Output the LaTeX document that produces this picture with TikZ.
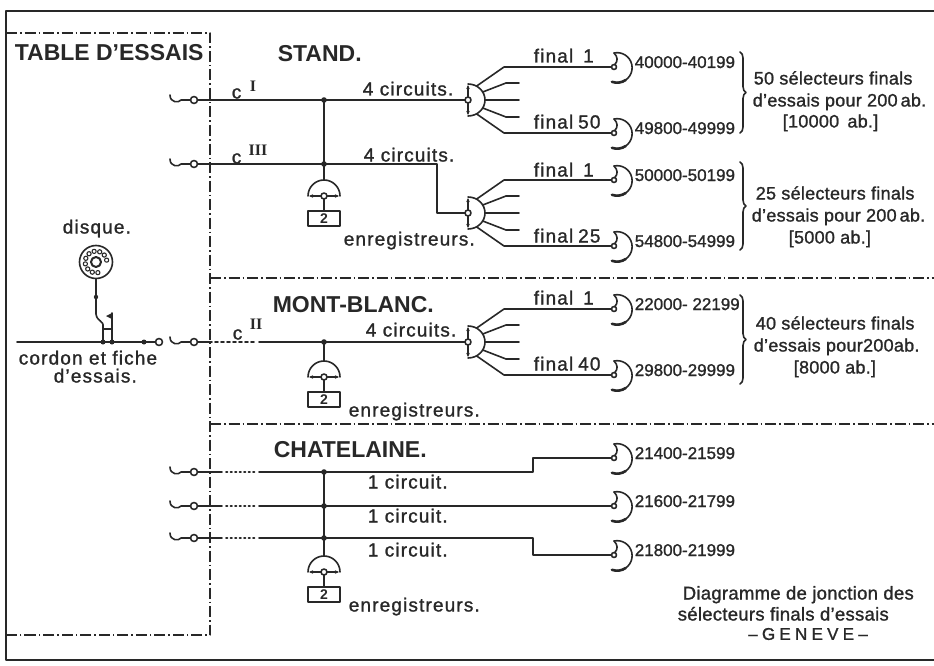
\documentclass[tikz,border=0pt]{standalone}
\usepackage{fontspec}
\setmainfont{Liberation Sans}
\newfontfamily\lblfont{Liberation Sans}[FakeBold=1.2, LetterSpace=6]
\newfontfamily\sidefont{Liberation Sans}[FakeBold=1.2, LetterSpace=1.5]
\newfontfamily\numfont{Liberation Sans}[FakeBold=1.2]
\newfontfamily\romf{Liberation Serif}
\usetikzlibrary{arrows.meta,decorations.pathreplacing,calc}
\definecolor{inkc}{RGB}{40,40,40}
\tikzset{
  dashdot/.style={line width=1.7pt, dash pattern=on 11pt off 3pt on 1.5pt off 3pt, line cap=butt},
  frame/.style={line width=2pt},
  title/.style={font=\fontsize{23}{23}\selectfont\bfseries, inner sep=0pt, anchor=west, text height=16pt, text depth=0pt},
  lbl/.style={font=\fontsize{19}{19}\selectfont\lblfont, inner sep=0pt, anchor=west, text height=13pt, text depth=0pt},
  num/.style={font=\fontsize{17}{17}\selectfont\numfont, inner sep=0pt, anchor=west, text height=12pt, text depth=0pt},
  side/.style={font=\fontsize{18}{18}\selectfont\sidefont, inner sep=0pt, anchor=west, text height=13pt, text depth=0pt},
  rom/.style={font=\fontsize{16}{16}\selectfont\romf\bfseries, inner sep=0pt},
  jdot/.style={fill=inkc},
  tip/.style={-{Stealth[length=4pt,width=3.5pt]}},
  pics/jack/.style={code={
    \draw (-24,-5) .. controls (-24,3) and (-15,3) .. (-13,0) -- (-3.5,0);
    \draw (0,0) circle[radius=3.5];
    \coordinate (-out) at (3.5,0);
  }},
  pics/grpsel/.style={code={
    \draw (0,-16) arc[start angle=-90,end angle=90,x radius=17,y radius=16];
    \draw[tip] (0,-3) -- (0,-15);
    \draw[tip] (0,3) -- (0,15);
    \draw[fill=white] (0,0) circle[radius=3];
    \draw (-60:17 and 16) -- (36,-33) -- (143.5,-33);
    \draw (-30:17 and 16) -- (38,-17) -- (51,-17);
    \draw (17,0) -- (51,0);
    \draw (30:17 and 16) -- (38,17) -- (51,17);
    \draw (60:17 and 16) -- (36,33) -- (143.5,33);
    \coordinate (-in) at (-3,0);
  }},
  pics/finsel/.style={code={
    \draw (0,0) circle[radius=2.5];
    \draw (0.8,-2.4) .. controls (4,-6) and (4,-10) .. (0,-14);
    \draw (0,-14) arc[start angle=-102,end angle=110,radius=15];
    \draw[line width=2.6pt] ($(3.1,0.7)+(55:15)$) arc[start angle=55,end angle=110,radius=15];
    \coordinate (-in) at (-2.5,0);
  }},
  pics/regist/.style={code={
    \draw (-16,0) arc[start angle=180,end angle=360,radius=16];
    \draw[tip] (-3,0) -- (-15,0);
    \draw[tip] (3,0) -- (15,0);
    \draw[fill=white] (0,0) circle[radius=3];
    \draw (0,3) -- (0,15);
    \node[draw, line width=1.6pt, minimum width=32pt, minimum height=15pt, inner sep=0pt,
          font=\fontsize{14}{14}\selectfont\bfseries] at (0,22.5) {2};
    \coordinate (-top) at (0,-16);
  }}
}
\begin{document}
\begin{tikzpicture}[x=1pt,y=-1pt,color=inkc,line width=1.6pt,line cap=round,line join=round]
\useasboundingbox[fill=white] (0,0) rectangle (934,666);

% frames
\draw[frame] (940,11) -- (6,11) -- (6,660) -- (940,660);
\draw[dashdot] (6,33) -- (210,33) -- (210,635) -- (6,635);
\draw[dashdot] (210,278) -- (940,278);
\draw[dashdot] (210,424) -- (940,424);

% titles
\node[title] (tTable) at (14,53) {TABLE D’ESSAIS};
\node[title] (tStand) at (277,54) {STAND.};
\node[title] (tMont) at (272,304) {MONT-BLANC.};
\node[title] (tChat) at (273,449) {CHATELAINE.};

% ---------- STAND ----------
\pic (jA) at (194,100) {jack};
\pic (jB) at (194,164) {jack};
\pic (gA) at (468,100) {grpsel};
\pic (gB) at (468,213) {grpsel};
\coordinate (kA) at (324,100);
\coordinate (kB) at (324,164);
\draw (jA-out) -- (kA) -- (gA-in);
\draw (jB-out) -- (kB) -- (437,164) -- (437,213) -- (gB-in);
\fill[jdot] (kA) circle[radius=2.8];
\fill[jdot] (kB) circle[radius=2.8];
\pic (rA) at (324,196) {regist};
\draw (kA) -- (rA-top);
\node[lbl] (cA) at (231,92) {c};
\node[rom] (nA) at (253,86) {I};
\node[lbl] (cB) at (231,157) {c};
\node[rom] (nB) at (258,150) {III};
\node[lbl] (ccA) at (362,89) {4 circuits.};
\node[lbl] (ccB) at (363,155) {4 circuits.};
\node[lbl] (eA) at (343,239) {enregistreurs.};

\node[lbl] (fA1) at (533,56) {final\hspace{10pt}1};
\node[lbl] (fA2) at (533,122) {final\hspace{5pt}50};
\node[lbl] (fB1) at (533,170) {final\hspace{10pt}1};
\node[lbl] (fB2) at (533,236) {final\hspace{5pt}25};

\pic at (614,67) {finsel};
\pic at (614,133) {finsel};
\pic at (614,180) {finsel};
\pic at (614,246) {finsel};
\node[num] at (634,62) {40000-40199};
\node[num] at (634,128) {49800-49999};
\node[num] at (634,175) {50000-50199};
\node[num] at (634,241) {54800-54999};

\draw[decorate,decoration={brace,amplitude=6pt}] (740,52) -- (740,133);
\draw[decorate,decoration={brace,amplitude=6pt}] (740,162) -- (740,250);
\node[side] at (753,78) {50 sélecteurs finals};
\node[side] at (752,100) {d’essais pour 200\,ab.};
\node[side] at (782,121) {[10000 \,ab.]};
\node[side] at (755,193) {25 sélecteurs finals};
\node[side] at (751,215) {d’essais pour 200\,ab.};
\node[side] at (788,237) {[5000 ab.]};

% ---------- TABLE D'ESSAIS ----------
\node[lbl] (disq) at (62,227) {disque.};
\coordinate (dial) at (96,262);
\draw (dial) circle[radius=16.5];
\draw[line width=2pt] (dial) circle[radius=5];
\foreach \a in {80,110,...,350} \draw[line width=1.1pt] ($(dial)+(\a:10.8)$) circle[radius=2.1];
\draw (96,279) -- (96,314) .. controls (97,322) and (104,320) .. (103,327);
\fill[jdot] (96,297) circle[radius=2.2];
\draw (103,327) -- (103,342);
\draw (103,329) -- (112,329);
\draw (112,313) -- (112,342);
\fill[jdot] (112,313) -- (106,316) -- (112,319) -- cycle;
\draw (17,342) -- (144,342) -- (155.5,342);
\fill[jdot] (103,342) circle[radius=2.5];
\fill[jdot] (112,342) circle[radius=2.5];
\fill[jdot] (144,342) circle[radius=2.5];
\draw (159,342) circle[radius=3.5];
\node[lbl] (cord1) at (18,358) {cordon et fiche};
\node[lbl] (cord2) at (53,376) {d’essais.};

% ---------- MONT-BLANC ----------
\pic (jC) at (194,342) {jack};
\pic (gC) at (468,342) {grpsel};
\coordinate (kC) at (324,342);
\draw (jC-out) -- (212,342);
\draw[dash pattern=on 3pt off 3pt] (215,342) -- (256,342);
\draw (259,342) -- (kC) -- (gC-in);
\fill[jdot] (kC) circle[radius=2.8];
\pic (rC) at (324,377) {regist};
\draw (kC) -- (rC-top);
\node[lbl] (cC) at (232,333) {c};
\node[rom] (nC) at (256,324) {II};
\node[lbl] (ccC) at (365,330) {4 circuits.};
\node[lbl] (eC) at (348,410) {enregistreurs.};
\node[lbl] (fC1) at (533,298) {final\hspace{10pt}1};
\node[lbl] (fC2) at (533,364) {final\hspace{5pt}40};
\pic at (614,309) {finsel};
\pic at (614,375) {finsel};
\node[num] at (634,304) {22000- 22199};
\node[num] at (634,370) {29800-29999};
\draw[decorate,decoration={brace,amplitude=6pt}] (740,295) -- (740,384);
\node[side] at (755,323) {40 sélecteurs finals};
\node[side] at (753,345) {d’essais pour200ab.};
\node[side] at (793,367) {[8000 ab.]};

% ---------- CHATELAINE ----------
\foreach \n/\y in {D/472,E/506,F/538}{
  \pic (j\n) at (194,\y) {jack};
  \draw (j\n-out) -- (222,\y);
  \draw[dash pattern=on 1.5pt off 3pt] (226,\y) -- (255,\y);
}
\pic (fD) at (614,458) {finsel};
\pic (fE) at (614,506) {finsel};
\pic (fF) at (614,555) {finsel};
\draw (259,472) -- (533,472) -- (533,458) -- (fD-in);
\draw (259,506) -- (fE-in);
\draw (259,538) -- (533,538) -- (533,555) -- (fF-in);
\foreach \y in {472,506,538} \fill[jdot] (324,\y) circle[radius=2.8];
\pic (rF) at (324,572) {regist};
\draw (324,472) -- (rF-top);
\node[lbl] at (367,482) {1 circuit.};
\node[lbl] at (367,516) {1 circuit.};
\node[lbl] at (367,550) {1 circuit.};
\node[lbl] (eF) at (348,605) {enregistreurs.};
\node[num] at (634,453) {21400-21599};
\node[num] at (634,501) {21600-21799};
\node[num] at (634,550) {21800-21999};

% footer
\node[side,font=\fontsize{18.5}{18.5}\selectfont\sidefont] (ft1) at (682,593) {Diagramme de jonction des};
\node[side,font=\fontsize{18.5}{18.5}\selectfont\sidefont] (ft2) at (677,614) {sélecteurs finals d’essais};
\node[anchor=center,inner sep=0pt,font=\fontsize{17}{17}\selectfont\numfont\addfontfeature{LetterSpace=25}] (ft3) at (808,634) {–GENEVE–};
\end{tikzpicture}
\end{document}
